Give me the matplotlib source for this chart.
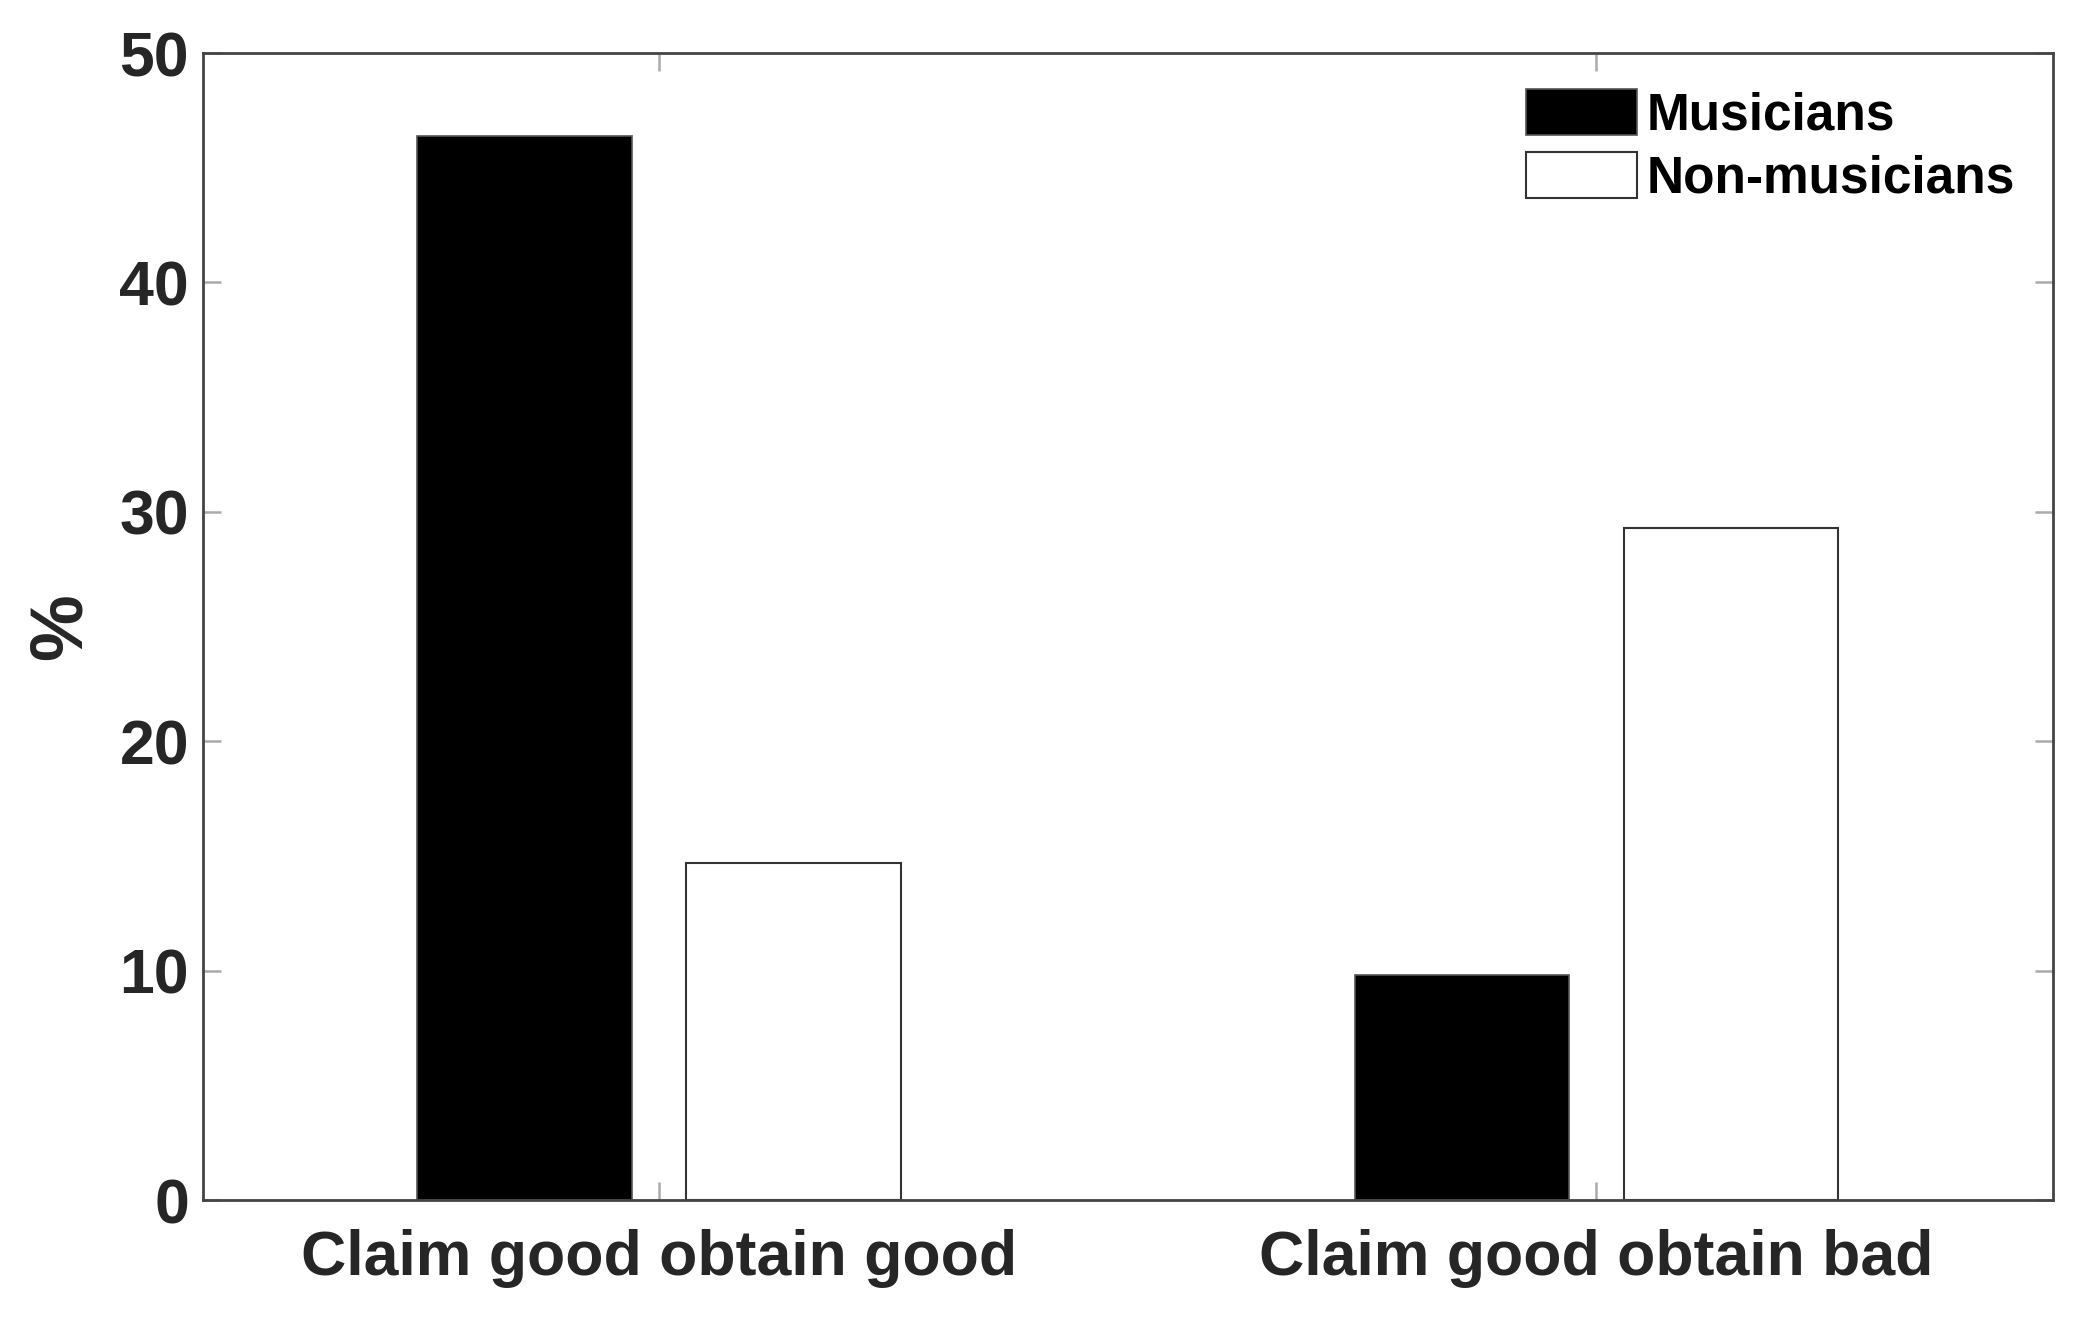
import matplotlib
matplotlib.use("Agg")
import matplotlib.pyplot as plt
import numpy as np

categories = ["Claim good obtain good", "Claim good obtain bad"]
series_names = ["Musicians", "Non-musicians"]
musicians = [46.4, 9.8]
non_musicians = [14.7, 29.3]
yticks = [0, 10, 20, 30, 40, 50]

plt.rcParams['font.family'] = ['Liberation Sans', 'DejaVu Sans']
plt.rcParams['font.weight'] = 'bold'

fig = plt.figure(figsize=(20.76, 13.27), dpi=100)
ax = fig.add_axes([0.0978, 0.0957, 0.9890 - 0.0978, 0.9600 - 0.0957])

x = np.arange(1, len(categories) + 1)
w = 0.229
off = 0.1435
ax.bar(x - off, musicians, width=w, color='black', edgecolor='#555555',
       linewidth=1.2, label=series_names[0], zorder=2)
ax.bar(x + off, non_musicians, width=w, color='white', edgecolor='#333333',
       linewidth=1.5, label=series_names[1], zorder=2)

ax.set_xlim(0.514, 2.487)
ax.set_ylim(0, 50)
ax.set_yticks(yticks)
ax.set_yticklabels([str(t) for t in yticks])
ax.set_xticks(x)
ax.set_xticklabels(categories)

ax.tick_params(axis='both', direction='in', length=13, width=1.8,
               color='#aaaaaa', top=True, right=True, labelcolor='#262626',
               labelsize=45)
ax.tick_params(axis='x', pad=21)
ax.tick_params(axis='y', pad=10)
for lab in ax.get_xticklabels() + ax.get_yticklabels():
    lab.set_fontweight('bold')

for s in ax.spines.values():
    s.set_color('#444444')
    s.set_linewidth(2)

ax.set_ylabel('%', fontsize=54, fontweight='bold', color='#262626')
ax.yaxis.set_label_coords(-0.058, 0.5)

leg = ax.legend(loc='upper right', frameon=False, fontsize=37,
                handlelength=2.16, handleheight=1.0, handletextpad=0.2,
                labelspacing=0.22, borderaxespad=0.3,
                bbox_to_anchor=(0.999, 1.0))
for t in leg.get_texts():
    t.set_fontweight('bold')
    t.set_color('black')

fig.savefig('out.png', dpi=100)
